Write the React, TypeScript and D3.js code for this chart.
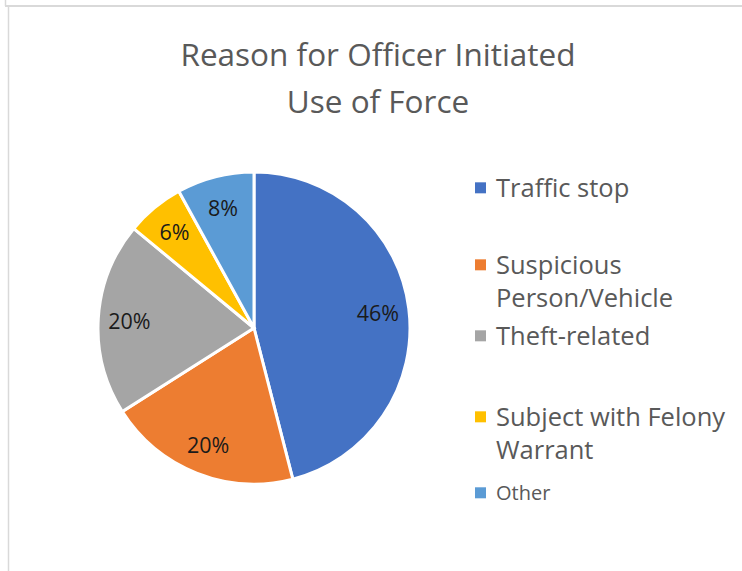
import React from "react";
import * as d3 from "d3";

const categories = [
  "Traffic stop",
  "Suspicious Person/Vehicle",
  "Theft-related",
  "Subject with Felony Warrant",
  "Other",
];
const counts = [23, 10, 10, 3, 4];
const colors = ["#4472C4", "#ED7D31", "#A5A5A5", "#FFC000", "#5B9BD5"];
const legendLines = [
  ["Traffic stop"],
  ["Suspicious", "Person/Vehicle"],
  ["Theft-related"],
  ["Subject with Felony", "Warrant"],
  ["Other"],
];
const titleLines = ["Reason for Officer Initiated", "Use of Force"];

const W = 742;
const H = 571;
const CX = 254;
const CY = 328;
const R = 156;
const FONT = "'Open Sans', 'Noto Sans', sans-serif";
const legendBaselines = [197, 274, 345, 426, 500];
const legendSizes = [25.5, 25.5, 25.5, 25.5, 20];

export default function App() {
  const total = d3.sum(counts);
  const pie = d3
    .pie<number>()
    .sort(null)
    .startAngle(0)
    .endAngle(2 * Math.PI)
    .value((d) => d);
  const arcs = pie(counts);
  const arc = d3.arc<d3.PieArcDatum<number>>().innerRadius(0).outerRadius(R);
  const labelArc = d3
    .arc<d3.PieArcDatum<number>>()
    .innerRadius(R * 0.8)
    .outerRadius(R * 0.8);

  return (
    <svg
      width={W}
      height={H}
      style={{ position: "absolute", left: 0, top: 0, background: "#fff" }}
    >
      <rect x={0} y={0} width={W} height={H} fill="#fff" />
      <line x1={5.5} y1={0} x2={5.5} y2={6} stroke="#d9d9d9" strokeWidth={1.5} />
      <line x1={5} y1={6} x2={W} y2={6} stroke="#d9d9d9" strokeWidth={2} />
      <line x1={8.5} y1={6} x2={8.5} y2={H} stroke="#d9d9d9" strokeWidth={1.5} />

      {titleLines.map((t, i) => (
        <text
          key={t}
          x={378}
          y={66 + i * 47}
          textAnchor="middle"
          fontFamily={FONT}
          fontSize={31.5}
          fill="#595959"
        >
          {t}
        </text>
      ))}

      <g transform={`translate(${CX},${CY})`}>
        {arcs.map((a, i) => (
          <path
            key={categories[i]}
            d={arc(a) || ""}
            fill={colors[i]}
            stroke="#fff"
            strokeWidth={3}
          />
        ))}
        {arcs.map((a, i) => {
          const [x, y] = labelArc.centroid(a);
          return (
            <text
              key={"l" + i}
              x={x}
              y={y}
              textAnchor="middle"
              dominantBaseline="central"
              fontFamily={FONT}
              fontSize={21.5}
              fill="#1a1a1a"
            >
              {`${Math.round((a.data / total) * 100)}%`}
            </text>
          );
        })}
      </g>

      {legendLines.map((lines, i) => {
        const b = legendBaselines[i];
        const fs = legendSizes[i];
        const sq = 11;
        return (
          <g key={"leg" + i}>
            <rect
              x={475}
              y={b - fs * 0.36 - sq / 2}
              width={sq}
              height={sq}
              fill={colors[i]}
            />
            {lines.map((ln, j) => (
              <text
                key={ln}
                x={496}
                y={b + j * 33}
                fontFamily={FONT}
                fontSize={fs}
                fill="#595959"
              >
                {ln}
              </text>
            ))}
          </g>
        );
      })}
    </svg>
  );
}
